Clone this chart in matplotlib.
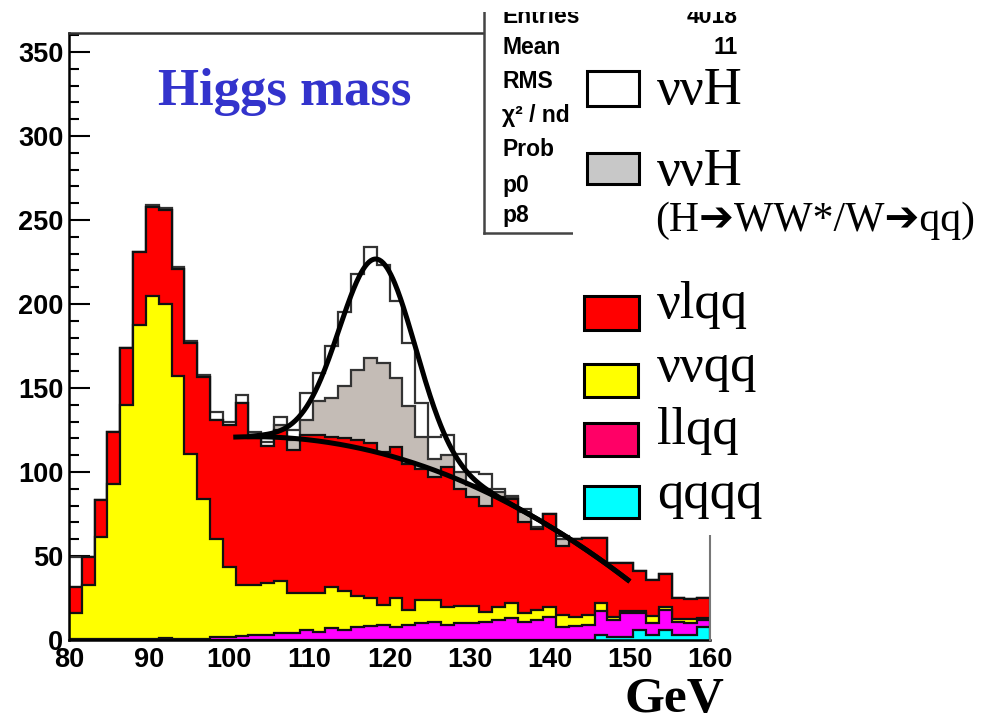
import numpy as np
import matplotlib
matplotlib.use("Agg")
import matplotlib.pyplot as plt
from matplotlib.patches import Rectangle
from matplotlib.lines import Line2D

# ---------------- data (cumulative stack levels, events / 1.6 GeV bin) ----------------
bin_edges = np.linspace(80, 160, 51)

stack_qqqq = [0, 0, 0, 0, 0, 0, 0, 0, 0, 0,
              0, 0, 0, 0, 0, 0, 0, 0, 0, 0,
              0, 0, 0, 0, 0, 0, 0, 0, 0, 0,
              0, 0, 0, 0, 0, 0, 0, 0, 0, 0,
              0, 3, 2, 2, 6, 3, 6, 3, 3, 8]
stack_llqq = [0.3, 0.3, 0.3, 0.3, 0.3, 0.3, 0.5, 1, 0.8, 0.5,
              0.5, 1.5, 1.5, 2.4, 3, 3, 4.4, 4.4, 6, 5,
              7, 6, 8, 8.3, 9, 8, 9, 10.3, 11, 9,
              10, 10, 11, 12, 13, 11, 12, 13.5, 8, 8.3,
              9, 17, 12, 16, 16, 10, 18, 11, 10, 12]
stack_vvqq = [16.3, 32.7, 61.5, 93, 140, 187.5, 205, 200, 157, 111,
              83.7, 60, 43.6, 32.7, 32.7, 33.7, 35.3, 27.8, 27.8, 27.8,
              31.7, 29.4, 26.2, 24.8, 20.8, 24.8, 17.9, 23.8, 23.8, 19.8,
              20.2, 20.2, 16.9, 19.8, 22.2, 15.9, 17.9, 19.8, 14.9, 13.9,
              14.9, 22.2, 13.5, 17, 17, 14, 19.5, 12.5, 12.3, 13]
stack_vlqq = [31.7, 49.6, 83.3, 124, 173.6, 231, 258, 256, 220.6, 177,
              156.7, 131, 128, 141, 120, 115.5, 125, 113, 122, 122,
              121, 120, 119, 117, 112, 115, 105, 102, 97, 103,
              90, 85, 80, 85, 84, 70, 66, 75, 56, 60,
              61, 61, 46, 46, 41, 36, 39.5, 25, 24.5, 25]
stack_vvH_WW = [31.7, 49.6, 83.3, 124, 173.6, 231, 258, 256, 220.6, 177,
                156.7, 131, 128, 141, 120, 115.5, 128, 119, 131, 142,
                144, 151, 161, 168, 165, 156, 139, 121, 108, 110,
                100, 92, 90, 88, 85, 76, 66, 75, 60, 60,
                61, 61, 46, 46, 41, 36, 39.5, 25, 24.5, 25]
stack_vvH = [49.6, 49.6, 83.3, 124, 174, 231, 259, 257, 222, 178,
             158, 136, 130, 146, 124, 118, 133, 125, 147, 159,
             175, 195, 218, 234, 223, 202, 177, 141, 121, 122,
             111, 100, 99, 90, 86, 78, 67, 75, 62, 60,
             61, 61, 46, 46, 41, 36, 39.5, 25, 24.5, 25]

# fit results (polynomial background + gaussian peak)
bg_const, bg_x0, bg_curv = 121.0, 103.0, 0.039
sig_amp, sig_mean, sig_sigma = 115.0, 118.5, 4.7
bg_range = (100.5, 150.0)
sig_range = (102.4, 150.0)

y_ticks = [0, 50, 100, 150, 200, 250, 300, 350]
x_ticks = [80, 90, 100, 110, 120, 130, 140, 150, 160]

legend_labels = ["\u03bd\u03bdH", "\u03bd\u03bdH", "\u03bdlqq", "\u03bd\u03bdqq", "llqq", "qqqq"]
legend_colors = ["#ffffff", "#c8c8c8", "#ff0000", "#ffff00", "#ff0066", "#00ffff"]

# ---------------- figure ----------------
W, H = 1000, 718
fig = plt.figure(figsize=(W / 100, H / 100), dpi=100)
fig.patch.set_facecolor("white")

def fx(px):
    return px / W

def fy(py):
    return 1 - py / H

ax_l, ax_r, ax_t, ax_b = 69, 710, 33, 640
ax = fig.add_axes([fx(ax_l), fy(ax_b), (ax_r - ax_l) / W, (ax_b - ax_t) / H])
ax.set_xlim(80, 160)
ax.set_ylim(0, 361.3)

layers = [
    (stack_vvH, "#ffffff", "#333333"),
    (stack_vvH_WW, "#c4bcb6", "#333333"),
    (stack_vlqq, "#ff0000", "#111111"),
    (stack_vvqq, "#ffff00", "#111111"),
    (stack_llqq, "#ff00ff", "#111111"),
    (stack_qqqq, "#00ffff", "#111111"),
]
for i, (vals, fc, ec) in enumerate(layers):
    ax.stairs(vals, bin_edges, baseline=0, fill=True, facecolor=fc,
              edgecolor="none", zorder=2 + i)
    ax.stairs(vals, bin_edges, baseline=0, fill=False, edgecolor=ec,
              linewidth=1.6, zorder=2 + i)

xb = np.linspace(bg_range[0], bg_range[1], 300)
bg = bg_const - bg_curv * (xb - bg_x0) ** 2
ax.plot(xb, bg, color="black", lw=3.6, zorder=20, solid_capstyle="butt")
xs = np.linspace(sig_range[0], sig_range[1], 400)
sig = bg_const - bg_curv * (xs - bg_x0) ** 2 + sig_amp * np.exp(-(xs - sig_mean) ** 2 / (2 * sig_sigma ** 2))
ax.plot(xs, sig, color="black", lw=3.6, zorder=21, solid_capstyle="butt")

# axes styling (ROOT look)
for s in ["top", "right"]:
    ax.spines[s].set_visible(False)
for s in ["left", "bottom"]:
    ax.spines[s].set_linewidth(1.8)
    ax.spines[s].set_zorder(30)
ax.set_yticks(y_ticks)
ax.set_yticks(np.arange(0, 361, 10), minor=True)
ax.set_xticks(x_ticks)
ax.tick_params(axis="y", which="major", direction="in", length=15, width=1.5, pad=4,
               labelsize=19.5, zorder=30)
ax.tick_params(axis="y", which="minor", direction="in", length=7, width=1.5)
ax.tick_params(axis="x", which="major", direction="in", length=0, pad=5, labelsize=19.5)
for lab in ax.get_xticklabels() + ax.get_yticklabels():
    lab.set_fontfamily("Liberation Sans")
    lab.set_fontweight("bold")
ax.set_facecolor("white")

# frame pieces still visible in the picture
fig.add_artist(Line2D([fx(ax_l), fx(484)], [fy(ax_t), fy(ax_t)], color="#333333", lw=1.8))
fig.add_artist(Line2D([fx(ax_r), fx(ax_r)], [fy(535), fy(ax_b)], color="#777777", lw=1.5))

# title
fig.text(fx(285), fy(105), "Higgs mass", color="#3333cc", fontsize=38,
         fontfamily="Liberation Serif", fontweight="bold", ha="center", va="baseline")

# statistics box (partly hidden)
fig.add_artist(Rectangle((fx(484), fy(233)), (573 - 484) / W, (233 - 0) / H,
                         facecolor="white", edgecolor="none", zorder=5))
fig.add_artist(Line2D([fx(484), fx(484)], [fy(12), fy(233)], color="#444444", lw=1.8, zorder=6))
fig.add_artist(Line2D([fx(484), fx(573)], [fy(233), fy(233)], color="#444444", lw=1.8, zorder=6))
stat_names = ["Entries", "Mean", "RMS", "\u03c7\u00b2 / nd", "Prob", "p0", "p8"]
stat_base = [23, 54, 88, 122, 156, 192, 222]
for name, b in zip(stat_names, stat_base):
    fig.text(fx(502), fy(b), name, fontsize=16.5, fontfamily="Liberation Sans",
             fontweight="bold", ha="left", va="baseline", zorder=7)
fig.text(fx(738), fy(23), "4018", fontsize=16.5, fontfamily="Liberation Sans",
         fontweight="bold", ha="right", va="baseline", zorder=7)
fig.text(fx(738), fy(54), "11", fontsize=16.5, fontfamily="Liberation Sans",
         fontweight="bold", ha="right", va="baseline", zorder=7)
# white band cropping the top row
fig.add_artist(Rectangle((fx(470), fy(12)), 330 / W, 12 / H, facecolor="white",
                         edgecolor="none", zorder=8))

# white legend panel over the right part
fig.add_artist(Rectangle((fx(573), fy(535)), (W - 573) / W, (535 - 62) / H,
                         facecolor="white", edgecolor="none", zorder=9))

# legend
boxes = [(587, 71, 639, 106), (587, 153, 639, 184), (584, 296, 639, 330),
         (584, 364, 638, 397), (584, 423, 638, 456), (584, 486, 639, 518)]
bases = [104, 185, 318, 381, 444, 508]
for (x0, y0, x1, y1), col, lab, b in zip(boxes, legend_colors, legend_labels, bases):
    fig.add_artist(Rectangle((fx(x0), fy(y1)), (x1 - x0) / W, (y1 - y0) / H,
                             facecolor=col, edgecolor="black", lw=2.2, zorder=10))
    fig.text(fx(657), fy(b), lab, fontsize=38, fontfamily="Liberation Serif",
             ha="left", va="baseline", zorder=11)
fig.text(fx(655), fy(231), "(H\u2794WW*/W\u2794qq)", fontsize=30,
         fontfamily=["Liberation Serif", "DejaVu Sans"], ha="left", va="baseline", zorder=11)

# axis unit
fig.text(fx(674), fy(712), "GeV", fontsize=37, fontfamily="Liberation Serif",
         fontweight="bold", ha="center", va="baseline")

fig.savefig("out.png", dpi=100, facecolor="white")
